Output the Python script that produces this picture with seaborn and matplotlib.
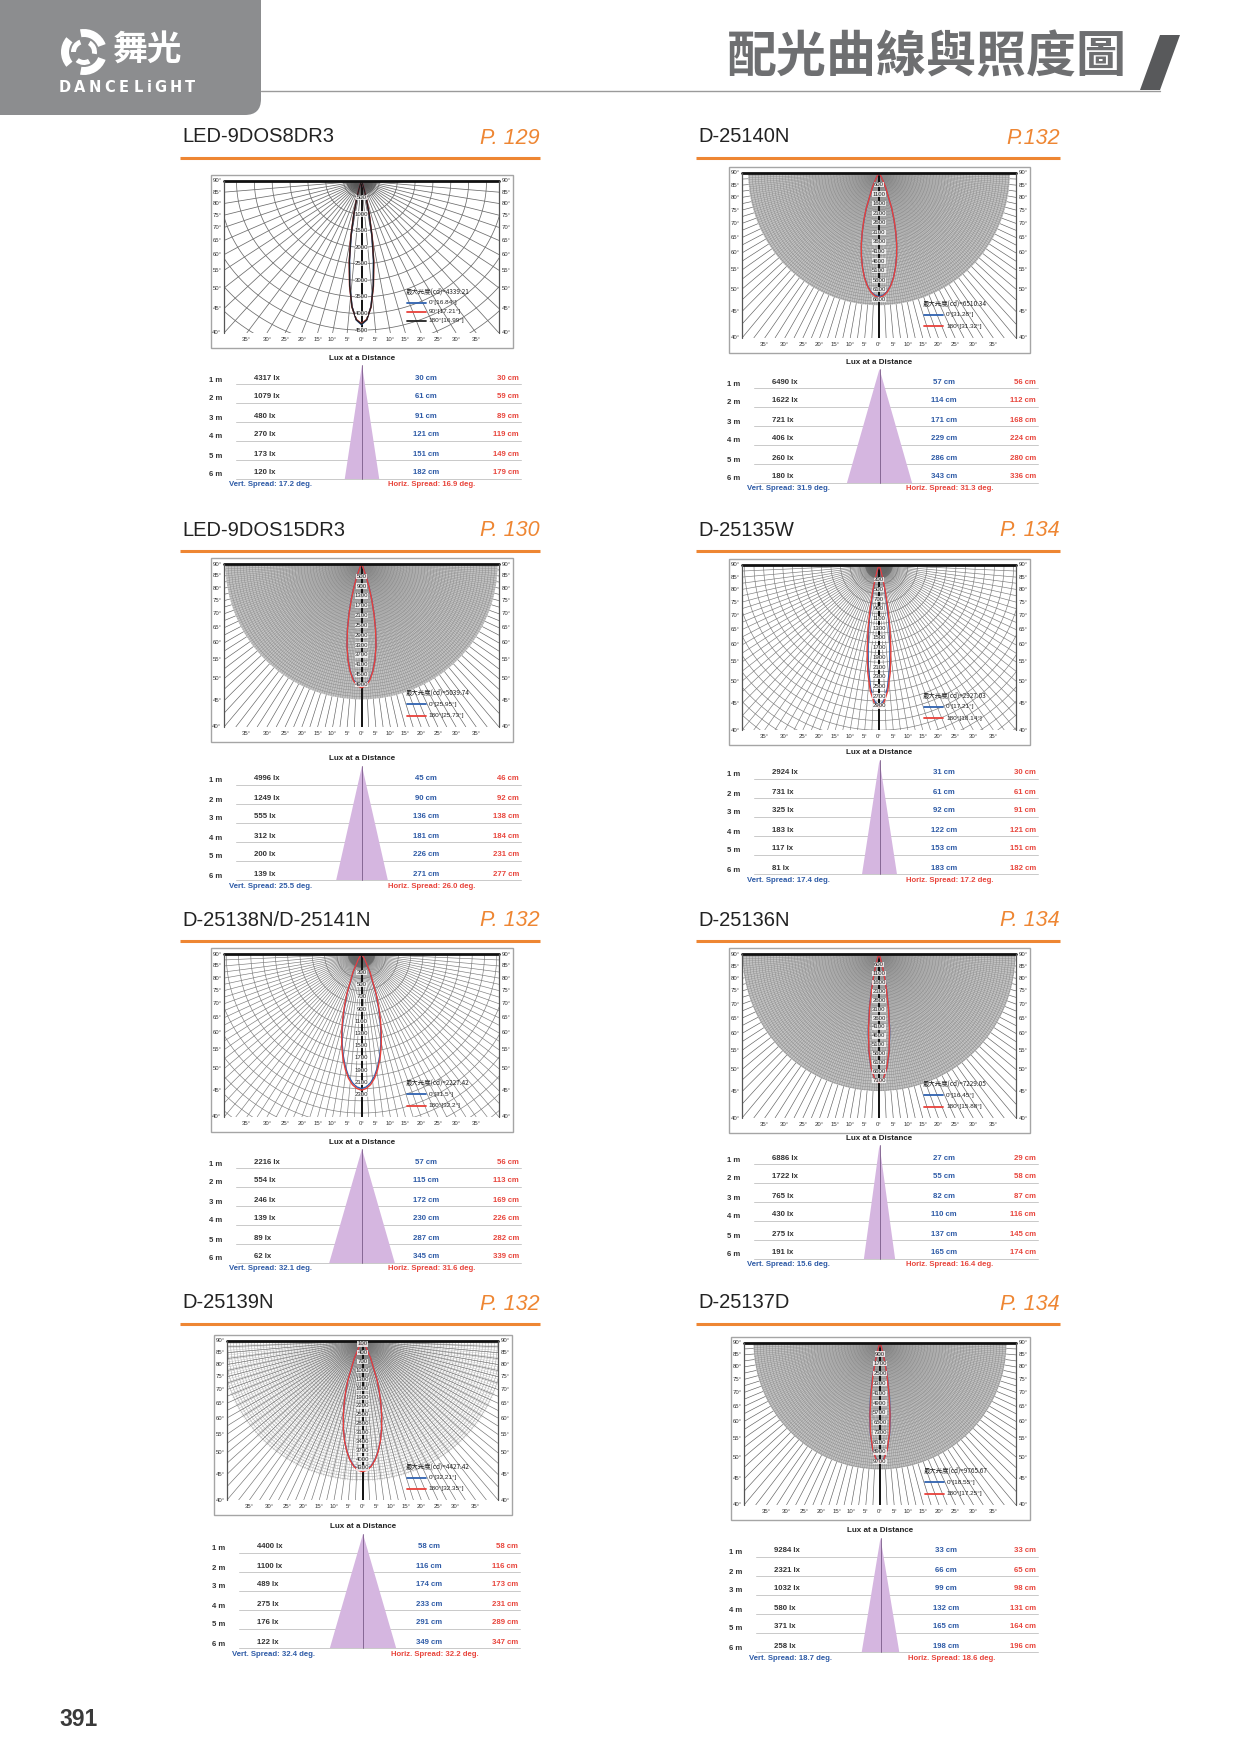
import numpy as np
import matplotlib
matplotlib.use("Agg")
import matplotlib.pyplot as plt
from matplotlib.patches import Rectangle, FancyBboxPatch, Polygon, Wedge
from matplotlib.collections import LineCollection
import seaborn as sns

sns.set_theme(style="white")
plt.rcParams["font.family"] = ["Liberation Sans", "Noto Sans CJK TC", "DejaVu Sans"]
CJK = ["Noto Sans CJK TC", "DejaVu Sans"]

# ---------------- values ----------------
MODELS = ["LED-9DOS8DR3", "D-25140N", "LED-9DOS15DR3", "D-25135W",
          "D-25138N/D-25141N", "D-25136N", "D-25139N", "D-25137D"]
PAGES = ["P. 129", "P.132", "P. 130", "P. 134", "P. 132", "P. 134", "P. 132", "P. 134"]
DISTANCES = ["1 m", "2 m", "3 m", "4 m", "5 m", "6 m"]

LUX = [[4317, 1079, 480, 270, 173, 120],
       [6490, 1622, 721, 406, 260, 180],
       [4996, 1249, 555, 312, 200, 139],
       [2924, 731, 325, 183, 117, 81],
       [2216, 554, 246, 139, 89, 62],
       [6886, 1722, 765, 430, 275, 191],
       [4400, 1100, 489, 275, 176, 122],
       [9284, 2321, 1032, 580, 371, 258]]
VERT_CM = [[30, 61, 91, 121, 151, 182],
           [57, 114, 171, 229, 286, 343],
           [45, 90, 136, 181, 226, 271],
           [31, 61, 92, 122, 153, 183],
           [57, 115, 172, 230, 287, 345],
           [27, 55, 82, 110, 137, 165],
           [58, 116, 174, 233, 291, 349],
           [33, 66, 99, 132, 165, 198]]
HORIZ_CM = [[30, 59, 89, 119, 149, 179],
            [56, 112, 168, 224, 280, 336],
            [46, 92, 138, 184, 231, 277],
            [30, 61, 91, 121, 151, 182],
            [56, 113, 169, 226, 282, 339],
            [29, 58, 87, 116, 145, 174],
            [58, 116, 173, 231, 289, 347],
            [33, 65, 98, 131, 164, 196]]
VERT_SPREAD = [17.2, 31.9, 25.5, 17.4, 32.1, 15.6, 32.4, 18.7]
HORIZ_SPREAD = [16.9, 31.3, 26.0, 17.2, 31.6, 16.4, 32.2, 18.6]
MAX_CD = [4339.21, 6510.34, 5039.74, 2927.03, 2227.42, 7229.05, 4427.42, 9765.67]
CURVE_NAMES = [["0°[16.84°]", "90°[17.21°]", "180°[16.99°]"],
               ["0°[31.28°]", "180°[31.32°]"],
               ["0°[25.95°]", "180°[25.73°]"],
               ["0°[17.21°]", "180°[18.14°]"],
               ["0°[31.5°]", "180°[32.2°]"],
               ["0°[16.45°]", "180°[15.88°]"],
               ["0°[32.21°]", "180°[32.35°]"],
               ["0°[18.55°]", "180°[17.25°]"]]
# candela labels along the 0° axis: (first, last, step)
CD_TICKS = [(500, 4500, 500), (600, 6600, 500), (500, 4900, 400), (300, 2900, 200),
            (300, 2300, 200), (600, 7100, 500), (100, 4300, 300), (900, 9700, 800)]

# candela curves (estimated), one list per C-plane, at these angles
CURVE_ANGLES = [0, 2, 4, 6, 8, 10, 12, 14, 16, 18, 20, 25, 30, 40, 90]
CURVE_CD = [
    [[4339, 4200, 3800, 3150, 2400, 1650, 1000, 550, 280, 130, 60, 15, 5, 0, 0],
     [4300, 4180, 3820, 3200, 2480, 1750, 1080, 600, 300, 140, 65, 18, 6, 0, 0],
     [4320, 4190, 3810, 3170, 2440, 1700, 1040, 570, 290, 135, 62, 16, 5, 0, 0]],
    [[6450, 6380, 6200, 5900, 5500, 5000, 4450, 3850, 3200, 2550, 1950, 800, 250, 40, 0],
     [6510, 6420, 6230, 5920, 5520, 5020, 4470, 3870, 3220, 2580, 1980, 820, 260, 40, 0]],
    [[4990, 4920, 4720, 4380, 3930, 3380, 2760, 2120, 1520, 1000, 600, 140, 30, 5, 0],
     [5040, 4960, 4750, 4400, 3940, 3380, 2740, 2090, 1490, 980, 580, 130, 25, 5, 0]],
    [[2900, 2800, 2530, 2120, 1640, 1160, 740, 420, 220, 100, 45, 10, 0, 0, 0],
     [2927, 2840, 2600, 2230, 1780, 1300, 860, 500, 260, 120, 50, 10, 0, 0, 0]],
    [[2200, 2175, 2110, 2010, 1870, 1700, 1510, 1300, 1080, 870, 680, 310, 100, 15, 0],
     [2227, 2200, 2140, 2040, 1900, 1735, 1545, 1335, 1115, 900, 705, 325, 110, 15, 0]],
    [[7200, 7000, 6420, 5500, 4350, 3150, 2070, 1220, 650, 320, 150, 30, 0, 0, 0],
     [7229, 7010, 6400, 5440, 4250, 3040, 1970, 1150, 600, 290, 135, 28, 0, 0, 0]],
    [[4400, 4355, 4230, 4030, 3760, 3430, 3050, 2640, 2220, 1810, 1430, 640, 210, 30, 0],
     [4427, 4380, 4250, 4045, 3770, 3440, 3060, 2650, 2235, 1825, 1445, 650, 215, 30, 0]],
    [[9700, 9430, 8680, 7500, 6020, 4450, 3000, 1850, 1030, 520, 240, 40, 0, 0, 0],
     [9766, 9470, 8660, 7400, 5850, 4250, 2800, 1680, 910, 450, 210, 35, 0, 0, 0]],
]

# ---------------- layout / style (page pixels) ----------------
W, H = 1241, 1754
BOXES = [(211, 175, 513, 348), (729, 167, 1030, 353), (211, 558, 513, 742), (729, 559, 1030, 745),
         (211, 948, 513, 1132), (729, 948, 1030, 1133), (214, 1335, 512, 1515), (731, 1337, 1030, 1520)]
LUX_Y = [358, 362, 759, 753, 1142, 1138, 1527, 1531]
TITLE_Y = [137, 530, 920, 1303]
COL_X = [(182, 540), (698, 1060)]
CD_PER_UNIT = [3850, 7230, 5570, 2850, 2236, 7730, 4520, 11100]
GRID = ["wire5", "dense", "dense", "wire", "wire", "dense", "medium", "dense"]
DISK_R = [0, 0.955, 0.99, 0, 0, 0.996, 1.05, 0.93]
RING_CD = [500, 0, 0, 200, 200, 0, 100, 0]
CURVE_COLORS = {3: ["#2f62b0", "#e8413a", "#222222"], 2: ["#2f62b0", "#e8413a"]}
D = 1 / np.tan(np.radians(40))
ORANGE = "#ee8633"
BLUE = "#2d5aa6"
RED = "#e8453c"

fig = plt.figure(figsize=(W / 100, H / 100), dpi=100)
page = fig.add_axes([0, 0, 1, 1])
page.set_xlim(0, W)
page.set_ylim(H, 0)
page.set_axis_off()

# ---------------- header ----------------
page.add_patch(FancyBboxPatch((-40, -40), 301, 155, boxstyle="round,pad=0,rounding_size=16",
                              fc="#8c8d8f", ec="none"))
cx0, cy0 = 84, 52
for t1 in (20, 140, 260):
    page.add_patch(Wedge((cx0, cy0), 23, t1, t1 + 80, width=8, fc="white", ec="none"))
    page.add_patch(Wedge((cx0, cy0), 13, t1 + 40, t1 + 110, width=5, fc="white", ec="none"))
page.text(113, 50, "舞光", color="white", fontsize=25, fontweight="bold", family=CJK,
          ha="left", va="center")
logo_x = 59
for ch in "DANCELiGHT":
    page.text(logo_x, 87, ch, color="white", fontsize=10.5, fontweight="bold",
              family=["DejaVu Sans"], ha="left", va="center")
    logo_x += {"i": 7.5, "L": 13}.get(ch, 15)
page.text(1127, 58, "配光曲線與照度圖", color="#6e6f71", fontsize=36, fontweight="heavy",
          family=CJK, ha="right", va="center")
page.add_patch(Polygon([(1160, 35), (1180, 35), (1160, 90), (1140, 90)], closed=True,
                       fc="#58595b", ec="none"))
page.plot([261, 1160], [91, 91], color="#9a9a9a", lw=1)
page.text(59, 1720, "391", color="#3a3a3a", fontsize=16.5, fontweight="bold",
          ha="left", va="center")


def ray_t(a):
    s, c = np.sin(np.radians(a)), np.cos(np.radians(a))
    ts = []
    if abs(s) > 1e-9:
        ts.append(1 / abs(s))
    if c > 1e-9:
        ts.append(D / c)
    return min(ts)


def rays(ax, step, r0, r1, color, lw, skip_zero=True):
    segs = []
    for a in np.arange(-90, 90.001, step):
        if skip_zero and abs(a) < 1e-6:
            continue
        t = ray_t(a) if r1 is None else min(r1, ray_t(a))
        if t <= r0:
            continue
        s, c = np.sin(np.radians(a)), np.cos(np.radians(a))
        segs.append([(r0 * s, -r0 * c), (t * s, -t * c)])
    ax.add_collection(LineCollection(segs, colors=color, linewidths=lw, zorder=1))


def rings(ax, radii, color, lw):
    phi = np.radians(np.linspace(-90, 90, 241))
    segs = [np.column_stack([r * np.sin(phi), -r * np.cos(phi)]) for r in radii]
    ax.add_collection(LineCollection(segs, colors=color, linewidths=lw, zorder=1))


def draw_polar(i):
    bx0, by0, bx1, by1 = BOXES[i]
    page.add_patch(Rectangle((bx0, by0), bx1 - bx0, by1 - by0, fc="white", ec="#a5a5a5", lw=1.0))
    ix0, iy0, ix1, iy1 = bx0 + 13, by0 + 6, bx1 - 14, by1 - 15
    ax = fig.add_axes([ix0 / W, 1 - iy1 / H, (ix1 - ix0) / W, (iy1 - iy0) / H])
    ax.set_xlim(-1, 1)
    ax.set_ylim(-D, 0)
    ax.set_axis_off()
    unit = CD_PER_UNIT[i]
    style = GRID[i]

    if style == "wire5":
        rings(ax, np.arange(RING_CD[i], 1.7 * unit, RING_CD[i]) / unit, "#6c6c6c", 0.55)
        rays(ax, 5, 0, None, "#6c6c6c", 0.55)
        rays(ax, 2, 0, 0.11, "#555555", 0.3)
    elif style == "wire":
        rings(ax, np.arange(RING_CD[i], 1.7 * unit, RING_CD[i]) / unit, "#7a7a7a", 0.45)
        rays(ax, 2.5, 0, None, "#7a7a7a", 0.45)
        rays(ax, 1.25, 0, 0.1, "#666666", 0.25)
    elif style == "medium":
        dr = DISK_R[i]
        rings(ax, np.arange(RING_CD[i], dr * unit, RING_CD[i]) / unit, "#a0a0a0", 0.35)
        rays(ax, 1, 0, dr, "#b0b0b0", 0.25)
        rays(ax, 2.5, 0, None, "#707070", 0.45)
    else:
        dr = DISK_R[i]
        ax.add_patch(Wedge((0, 0), dr, 180, 360, fc="#c2c2c2", ec="none", zorder=0))
        rings(ax, np.arange(0.022, dr, 0.022), "#858585", 0.3)
        rays(ax, 1, 0, dr, "#868686", 0.25)
        rays(ax, 2.5, dr, None, "#5e5e5e", 0.45)

    # frame
    ax.plot([-1, 1], [0, 0], color="#111111", lw=2.0, clip_on=False, zorder=4)
    ax.plot([-1, -1], [0, -D], color="#555555", lw=0.9, clip_on=False, zorder=4)
    ax.plot([1, 1], [0, -D], color="#555555", lw=0.9, clip_on=False, zorder=4)
    ax.plot([0, 0], [0, -D], color="#111111", lw=1.4, zorder=2)

    # curves
    names = CURVE_NAMES[i]
    cols = CURVE_COLORS[len(names)]
    ang = np.radians(CURVE_ANGLES)
    for cd, col in zip(CURVE_CD[i], cols):
        r = np.array(cd) / unit
        xs = np.concatenate([-(r * np.sin(ang))[::-1], (r * np.sin(ang))[1:]])
        ys = np.concatenate([-(r * np.cos(ang))[::-1], -(r * np.cos(ang))[1:]])
        sns.lineplot(x=xs, y=ys, sort=False, estimator=None, color=col, lw=1.0, ax=ax,
                     legend=False, zorder=3)

    # candela labels on the 0° axis
    first, last, step = CD_TICKS[i]
    for v in range(first, last + 1, step):
        ax.text(0, -v / unit, str(v), fontsize=4.3, color="#222222", ha="center", va="center",
                zorder=5, bbox=dict(fc="white", ec="none", pad=0.15, alpha=0.8))

    # angle labels
    for a in range(90, 39, -5):
        yy = 1 + (-1 / np.tan(np.radians(a))) / D if a < 90 else 1.0
        for xx in (-0.026, 1.026):
            ax.text(xx, yy, f"{a}°", transform=ax.transAxes, fontsize=4.3, color="#333333",
                    ha="center", va="center")
    for a in range(-35, 36, 5):
        xx = 0.5 + D * np.tan(np.radians(a)) / 2
        ax.text(xx, -0.04, f"{abs(a)}°", transform=ax.transAxes, fontsize=4.3,
                color="#333333", ha="center", va="center")

    # legend
    fr = [0.73, 0.80, 0.86, 0.92] if len(names) == 3 else [0.79, 0.86, 0.93]
    ax.text(0.32, -fr[0] * D, f"最大光度(cd)={MAX_CD[i]:.2f}", fontsize=4.6, family=CJK,
            color="#222222", ha="left", va="center", zorder=6)
    for k, (nm, col) in enumerate(zip(names, cols)):
        yy = -fr[k + 1] * D
        ax.plot([0.33, 0.47], [yy, yy], color=col, lw=1.3, zorder=6)
        ax.text(0.49, yy, nm, fontsize=4.6, color="#222222", ha="left", va="center", zorder=6)


def draw_table(i):
    bx0, by0, bx1, by1 = BOXES[i]
    cx = (bx0 + bx1) / 2
    ly = LUX_Y[i]
    page.text(cx, ly, "Lux at a Distance", fontsize=5.8, fontweight="bold", color="#222222",
              ha="center", va="center")
    rows_y = [ly + 20 + r * 19 for r in range(6)]
    apex = ly + 7
    base = rows_y[-1] + 6
    half = (base - apex) * np.tan(np.radians(VERT_SPREAD[i] / 2))
    page.fill([cx, cx - half, cx + half], [apex, base, base], color="#d5b6e0", lw=0, zorder=1)
    page.plot([cx, cx], [apex, base], color="#7a5a88", lw=0.6, zorder=2)
    for r, yy in enumerate(rows_y):
        page.plot([bx0 + 25, bx1 + 8], [yy + 6, yy + 6], color="#c9c9c9", lw=0.7, zorder=0)
        page.text(bx0 - 2, yy + 2, DISTANCES[r], fontsize=5.6, fontweight="bold",
                  color="#333333", ha="left", va="center")
        page.text(bx0 + 43, yy, f"{LUX[i][r]} lx", fontsize=5.6, fontweight="bold",
                  color="#333333", ha="left", va="center")
        page.text(bx0 + 215, yy, f"{VERT_CM[i][r]} cm", fontsize=5.6, fontweight="bold",
                  color=BLUE, ha="center", va="center")
        page.text(bx1 + 6, yy, f"{HORIZ_CM[i][r]} cm", fontsize=5.6, fontweight="bold",
                  color=RED, ha="right", va="center")
    sy = ly + 127
    page.text(bx0 + 18, sy, f"Vert. Spread: {VERT_SPREAD[i]:.1f} deg.", fontsize=5.6,
              fontweight="bold", color=BLUE, ha="left", va="center")
    page.text(bx0 + 177, sy, f"Horiz. Spread: {HORIZ_SPREAD[i]:.1f} deg.", fontsize=5.6,
              fontweight="bold", color=RED, ha="left", va="center")


for i in range(8):
    row, col = divmod(i, 2)
    tx0, tx1 = COL_X[col]
    ty = TITLE_Y[row]
    page.text(tx0, ty, MODELS[i], fontsize=14.5, color="#222222", ha="left", va="center")
    page.text(tx1, ty + 1, PAGES[i], fontsize=15.5, style="italic", color=ORANGE,
              ha="right", va="center")
    page.plot([tx0 - 2, tx1], [ty + 21, ty + 21], color=ORANGE, lw=2.2, solid_capstyle="butt")
    draw_polar(i)
    draw_table(i)

fig.savefig("out.png", dpi=100)
